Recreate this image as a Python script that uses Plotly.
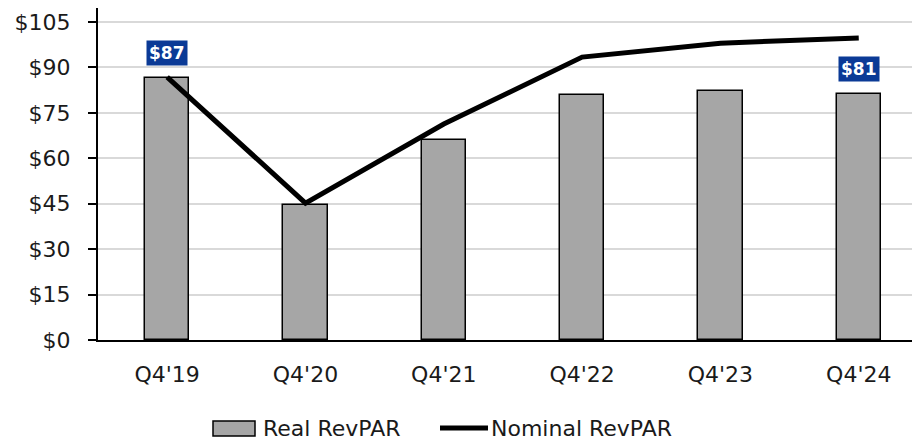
import plotly.graph_objects as go

quarters = ["Q4'19", "Q4'20", "Q4'21", "Q4'22", "Q4'23", "Q4'24"]
real_revpar = [86.6, 44.7, 66.0, 80.9, 82.2, 81.2]
nominal_revpar = [86.8, 45.2, 71.3, 93.4, 98.0, 99.7]
y_ticks = [0, 15, 30, 45, 60, 75, 90, 105]
y_tick_labels = ["$" + str(v) for v in y_ticks]

FONT = "DejaVu Sans"
BAR_FILL = "#A6A6A6"
W, H = 912, 442
M_L, M_R, M_T, M_B = 98, 0, 8, 102
x_pos = list(range(len(quarters)))


def px(x):
    # page pixel -> paper x
    return (x - M_L) / (W - M_L - M_R)


def py(y):
    # page pixel -> paper y
    return (H - M_B - y) / (H - M_T - M_B)


fig = go.Figure()
fig.add_trace(go.Bar(
    x=x_pos, y=real_revpar, name="Real RevPAR", width=0.32,
    marker=dict(color=BAR_FILL, line=dict(color="black", width=1.5)),
))
fig.add_trace(go.Scatter(
    x=x_pos, y=nominal_revpar, name="Nominal RevPAR", mode="lines",
    line=dict(color="black", width=5),
))

# value callouts on first and last bars
for i in (0, len(quarters) - 1):
    fig.add_annotation(
        x=x_pos[i], y=real_revpar[i], text="<b>$%d</b>" % round(real_revpar[i]),
        showarrow=False, yanchor="bottom", yshift=12,
        font=dict(family=FONT, size=17, color="white"),
        bgcolor="#0B3A96", borderpad=2,
    )

# legend drawn below the plot: wide bar swatch and thick line sample
leg_y = 428
fig.add_shape(type="rect", xref="paper", yref="paper",
              x0=px(213), x1=px(255), y0=py(436), y1=py(421),
              fillcolor=BAR_FILL, line=dict(color="black", width=1.5))
fig.add_annotation(xref="paper", yref="paper", x=px(261), y=py(leg_y),
                   text="Real RevPAR", showarrow=False, xanchor="left", yanchor="middle",
                   font=dict(family=FONT, size=22, color="#1a1a1a"))
fig.add_shape(type="line", xref="paper", yref="paper",
              x0=px(440), x1=px(488), y0=py(leg_y), y1=py(leg_y),
              line=dict(color="black", width=5))
fig.add_annotation(xref="paper", yref="paper", x=px(489), y=py(leg_y),
                   text="Nominal RevPAR", showarrow=False, xanchor="left", yanchor="middle",
                   font=dict(family=FONT, size=22, color="#1a1a1a"))

fig.update_layout(
    width=W, height=H,
    margin=dict(l=M_L, r=M_R, t=M_T, b=M_B, autoexpand=False),
    paper_bgcolor="white", plot_bgcolor="white",
    font=dict(family=FONT, size=22, color="#1a1a1a"),
    bargap=0,
    showlegend=False,
    xaxis=dict(
        range=[-0.5, 5.385], tickvals=x_pos, ticktext=quarters,
        showline=True, linecolor="black", linewidth=2, showgrid=False,
        ticks="", ticklabelstandoff=14, fixedrange=True, automargin=False,
    ),
    yaxis=dict(
        range=[0, 109.6], tickvals=y_ticks, ticktext=y_tick_labels,
        showline=True, linecolor="black", linewidth=2,
        ticks="outside", ticklen=8, tickwidth=2, tickcolor="black",
        ticklabelstandoff=13,
        showgrid=True, gridcolor="#D9D9D9", gridwidth=1.5,
        zeroline=False, fixedrange=True, automargin=False,
    ),
)

fig.write_html("out.html")
